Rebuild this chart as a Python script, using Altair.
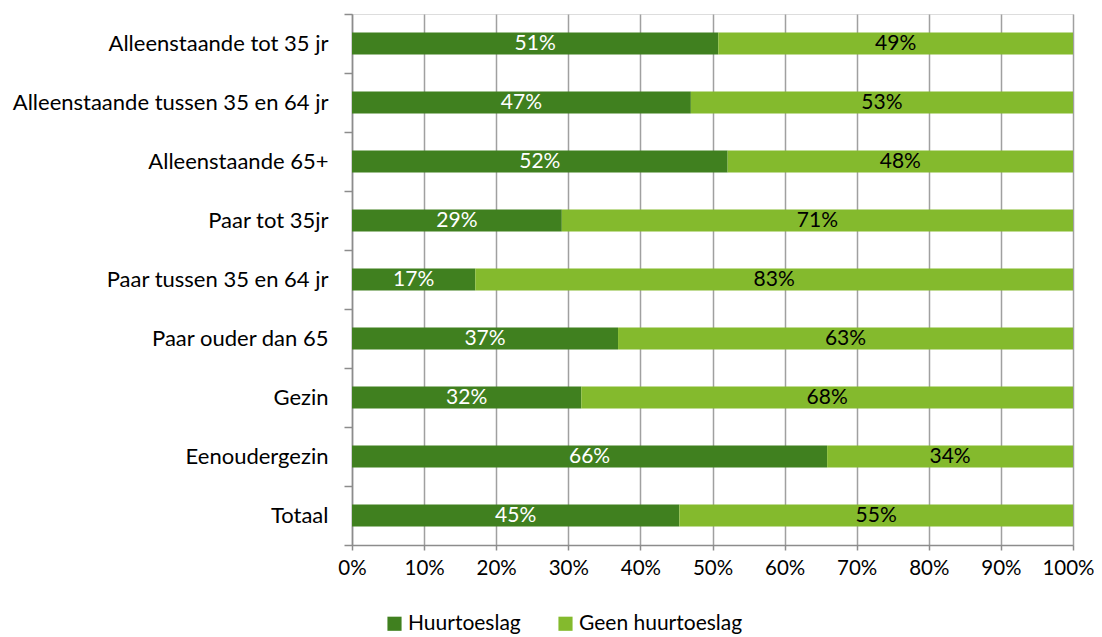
import altair as alt
import pandas as pd

categories = [
    "Alleenstaande tot 35 jr",
    "Alleenstaande tussen 35 en 64 jr",
    "Alleenstaande 65+",
    "Paar tot 35jr",
    "Paar tussen 35 en 64 jr",
    "Paar ouder dan 65",
    "Gezin",
    "Eenoudergezin",
    "Totaal",
]
huurtoeslag = [50.8, 47.0, 52.1, 29.1, 17.1, 36.9, 31.8, 65.9, 45.4]
geen_huurtoeslag = [49.2, 53.0, 47.9, 70.9, 82.9, 63.1, 68.2, 34.1, 54.6]
series = ["Huurtoeslag", "Geen huurtoeslag"]
colors = ["#40801F", "#84BA2D"]
text_colors = ["#FFFFFF", "#000000"]
x_ticks = [0.0, 0.1, 0.2, 0.3, 0.4, 0.5, 0.6, 0.7, 0.8, 0.9, 1.0]

rows = []
for c, h, g in zip(categories, huurtoeslag, geen_huurtoeslag):
    rows.append({"cat": c, "serie": series[0], "start": 0.0, "end": h / 100, "val": h / 100})
    rows.append({"cat": c, "serie": series[1], "start": h / 100, "end": (h + g) / 100, "val": g / 100})
df = pd.DataFrame(rows)
df["mid"] = (df["start"] + df["end"]) / 2

FONT = "Lato"
AXIS_GRAY = "#8C8C8C"

y_enc = alt.Y(
    "cat:N",
    sort=categories,
    title=None,
    scale=alt.Scale(paddingInner=0, paddingOuter=0),
    axis=alt.Axis(
        tickBand="extent",
        domainColor=AXIS_GRAY,
        domainWidth=1.5,
        tickColor=AXIS_GRAY,
        tickWidth=1.5,
        tickSize=8,
        labelPadding=16,
        labelFontSize=22,
        labelFont=FONT,
        labelColor="#000000",
        labelLimit=500,
        grid=False,
    ),
)

bars = alt.Chart(df).mark_bar(size=22).encode(
    y=y_enc,
    x=alt.X(
        "start:Q",
        title=None,
        scale=alt.Scale(domain=[0, 1], nice=False),
        axis=alt.Axis(
            format="%",
            values=x_ticks,
            grid=True,
            gridColor="#A0A0A0",
            gridWidth=1.5,
            domainColor=AXIS_GRAY,
            domainWidth=1.5,
            tickColor=AXIS_GRAY,
            tickWidth=1.5,
            tickSize=5,
            labelPadding=8,
            labelFontSize=20.5,
            labelFont=FONT,
            labelColor="#000000",
            labelOverlap=False,
            labelFlush=False,
            labelBound=False,
            labelOffset=alt.condition("datum.value == 1", alt.value(-5), alt.value(0)),
        ),
    ),
    x2="end:Q",
    color=alt.Color(
        "serie:N",
        sort=series,
        scale=alt.Scale(domain=series, range=colors),
        legend=alt.Legend(
            title=None,
            orient="none",
            direction="horizontal",
            legendX=32,
            legendY=599,
            padding=0,
            symbolType="square",
            symbolSize=200,
            symbolStrokeWidth=0,
            labelFontSize=21,
            labelFont=FONT,
            labelColor="#000000",
            labelLimit=400,
            columnPadding=34,
            labelOffset=3,
        ),
    ),
)

labels = alt.Chart(df).mark_text(fontSize=21, font=FONT).encode(
    y=alt.Y("cat:N", sort=categories),
    x=alt.X("mid:Q"),
    text=alt.Text("val:Q", format=".0%"),
    color=alt.Color("serie:N", scale=alt.Scale(domain=series, range=text_colors), legend=None),
)

chart = (
    alt.layer(bars, labels)
    .resolve_scale(color="independent")
    .properties(
        width=721,
        height=531,
        padding={"left": 344, "top": 6, "right": 21, "bottom": 91},
        autosize=alt.AutoSizeParams(type="none"),
    )
    .configure_view(stroke=None)
    .configure(background="#FFFFFF")
)

chart.save("out.html", embed_options={"renderer": "svg", "actions": False})
